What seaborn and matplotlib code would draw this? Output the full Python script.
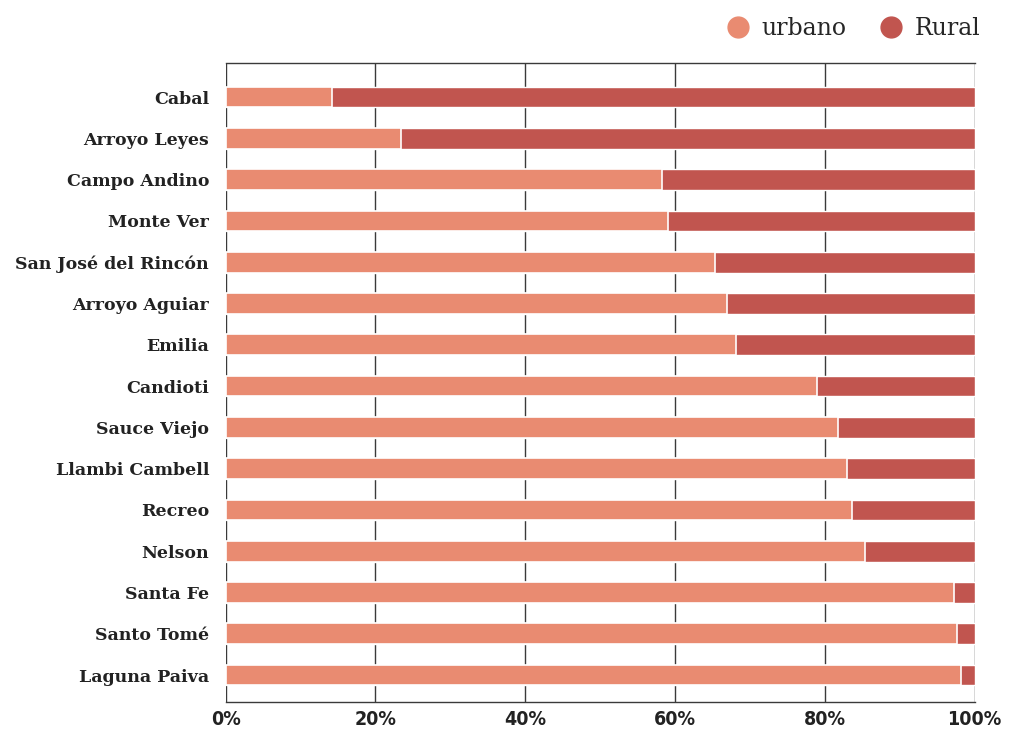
import numpy as np
import pandas as pd
import matplotlib
matplotlib.use('Agg')
import matplotlib.pyplot as plt
from matplotlib.lines import Line2D
import seaborn as sns

# Data (share of urban population, %)
localidades = ['Cabal', 'Arroyo Leyes', 'Campo Andino', 'Monte Ver',
               'San José del Rincón', 'Arroyo Aguiar', 'Emilia', 'Candioti',
               'Sauce Viejo', 'Llambi Cambell', 'Recreo', 'Nelson', 'Santa Fe',
               'Santo Tomé', 'Laguna Paiva']
urbano = [14.2, 23.4, 58.3, 59.0, 65.4, 66.9, 68.1, 79.0, 81.7, 83.0, 83.6,
          85.4, 97.3, 97.6, 98.2]
total = [100] * len(localidades)

col_urbano = '#E98B71'
col_rural = '#C1554F'

df = pd.DataFrame({'localidad': localidades, 'urbano': urbano, 'total': total})

sns.set_style('white')
fig, ax = plt.subplots(figsize=(10.12, 7.35), dpi=100)
fig.subplots_adjust(left=0.223, right=0.963, top=0.914, bottom=0.045)

# Grid lines behind bars
ax.set_axisbelow(True)
ax.xaxis.grid(True, color='#3a3a3a', linewidth=1.0)

# Full bar = rural colour, urban share drawn on top
sns.barplot(data=df, x='total', y='localidad', color=col_rural, saturation=1,
            width=0.5, orient='h', ax=ax)
sns.barplot(data=df, x='urbano', y='localidad', color=col_urbano, saturation=1,
            width=0.5, orient='h', ax=ax, edgecolor='white', linewidth=1.2)

ax.set_xlim(0, 100)
ax.set_ylim(14.65, -0.82)
ax.set_xticks([0, 20, 40, 60, 80, 100])
ax.set_xticklabels(['0%', '20%', '40%', '60%', '80%', '100%'],
                   fontsize=14, fontweight='bold', fontstretch='condensed',
                   family=['DejaVu Sans'], color='#222222')
ax.set_yticks(range(len(localidades)))
ax.set_yticklabels(localidades, fontsize=12.5, fontweight='bold',
                   family=['DejaVu Serif'], color='#222222')
ax.tick_params(axis='both', length=0)
ax.tick_params(axis='x', pad=6)
ax.tick_params(axis='y', pad=12)
ax.set_xlabel('')
ax.set_ylabel('')

for side in ['left', 'right']:
    ax.spines[side].set_visible(False)
for side in ['top', 'bottom']:
    ax.spines[side].set_color('#3a3a3a')
    ax.spines[side].set_linewidth(1.0)

handles = [Line2D([], [], marker='o', linestyle='', markersize=15, color=col_urbano, label='urbano'),
           Line2D([], [], marker='o', linestyle='', markersize=15, color=col_rural, label='Rural')]
fig.legend(handles=handles, loc='upper right', bbox_to_anchor=(0.99, 1.006),
           ncol=2, frameon=False, handletextpad=0.0, columnspacing=0.9,
           prop={'family': 'DejaVu Serif', 'size': 17})

fig.savefig('out.png', dpi=100)
